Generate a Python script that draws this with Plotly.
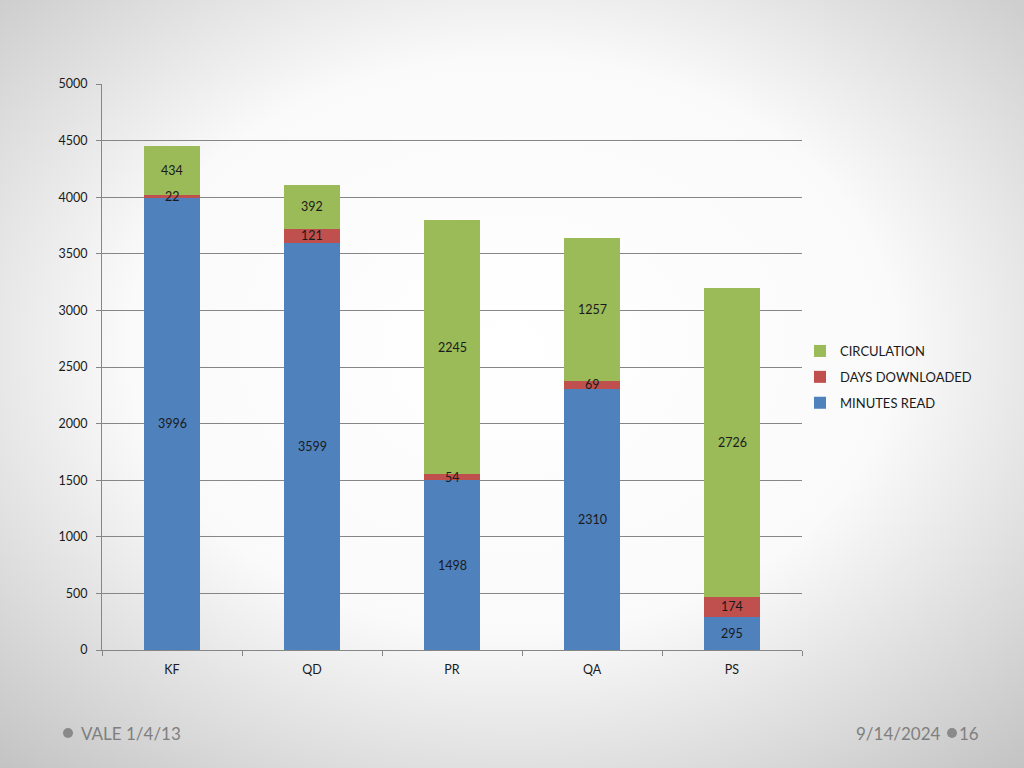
import base64
import plotly.graph_objects as go

categories = ["KF", "QD", "PR", "QA", "PS"]
minutes_read = [3996, 3599, 1498, 2310, 295]
days_downloaded = [22, 121, 54, 69, 174]
circulation = [434, 392, 2245, 1257, 2726]
series_names = ["MINUTES READ", "DAYS DOWNLOADED", "CIRCULATION"]
series_colors = ["#4F81BD", "#C0504D", "#9BBB59"]
legend_ranks = [3, 2, 1]
y_ticks = [0, 500, 1000, 1500, 2000, 2500, 3000, 3500, 4000, 4500, 5000]

W, H = 1024, 768
ML, MR, MT, MB = 102, 222, 84, 118
PW, PH = W - ML - MR, H - MT - MB

FONT = "Lato, 'Open Sans', sans-serif"

fig = go.Figure()
series = [minutes_read, days_downloaded, circulation]
for name, vals, col, rk in zip(series_names, series, series_colors, legend_ranks):
    fig.add_trace(go.Bar(
        x=categories, y=vals, name=name, marker=dict(color=col, line=dict(width=0)),
        legendgroup=name, legendrank=rk, width=0.4, hoverinfo="skip",
    ))

# data labels centred in each segment
base = [0] * len(categories)
for vals in series:
    for i, v in enumerate(vals):
        fig.add_annotation(x=categories[i], y=base[i] + v / 2, text=str(v), showarrow=False,
                           font=dict(family=FONT, size=12.5, color="#1a1a1a"), xref="x", yref="y")
        base[i] += v

svg = f'''<svg xmlns="http://www.w3.org/2000/svg" width="{W}" height="{H}">
<defs><radialGradient id="g" cx="50%" cy="45%" r="75%">
<stop offset="0%" stop-color="#ffffff"/><stop offset="50%" stop-color="#fafafa"/>
<stop offset="100%" stop-color="#c2c2c2"/></radialGradient></defs>
<rect width="{W}" height="{H}" fill="url(#g)"/></svg>'''
uri = "data:image/svg+xml;base64," + base64.b64encode(svg.encode()).decode()
fig.add_layout_image(dict(source=uri, xref="paper", yref="paper",
                          x=-ML / PW, y=1 + MT / PH, sizex=W / PW, sizey=H / PH,
                          sizing="stretch", xanchor="left", yanchor="top", layer="below"))

# footer
fy = -(733 - (MT + PH)) / PH
fig.add_annotation(xref="paper", yref="paper", x=(79 - ML) / PW, y=fy,
                   text="VALE 1/4/13", showarrow=False, xanchor="left", yanchor="middle",
                   font=dict(family=FONT, size=17, color="#7f7f7f"))
fig.add_annotation(xref="paper", yref="paper", x=(943 - ML) / PW, y=fy,
                   text="9/14/2024", showarrow=False, xanchor="right", yanchor="middle",
                   font=dict(family=FONT, size=17, color="#7f7f7f"))
fig.add_annotation(xref="paper", yref="paper", x=(957 - ML) / PW, y=fy,
                   text="16", showarrow=False, xanchor="left", yanchor="middle",
                   font=dict(family=FONT, size=17, color="#7f7f7f"))
for cx in (68, 952):
    fig.add_shape(type="circle", xref="paper", yref="paper",
                  x0=(cx - 5 - ML) / PW, x1=(cx + 5 - ML) / PW,
                  y0=-(738 - (MT + PH)) / PH, y1=-(728 - (MT + PH)) / PH,
                  fillcolor="#8a8a8a", line=dict(width=0))

fig.update_layout(
    width=W, height=H, barmode="stack",
    margin=dict(l=ML, r=MR, t=MT, b=MB, pad=0),
    paper_bgcolor="#e6e6e6", plot_bgcolor="white",
    font=dict(family=FONT, size=12.5, color="#1a1a1a"),
    legend=dict(x=(800 - ML) / PW, y=(650 - 336) / PH, xanchor="left", yanchor="top",
                traceorder="grouped", tracegroupgap=6,
                font=dict(family=FONT, size=13, color="#1a1a1a"),
                bgcolor="rgba(0,0,0,0)", itemwidth=30),
    bargap=0.6,
    xaxis=dict(showline=True, linecolor="#868686", linewidth=1, ticks="outside",
               tickson="boundaries", ticklen=5, tickcolor="#868686",
               tickfont=dict(family=FONT, size=12.5), showgrid=False, ticklabelstandoff=8),
    yaxis=dict(range=[0, 5000], tickvals=y_ticks, showline=True, linecolor="#868686",
               linewidth=1, ticks="outside", ticklen=5, tickcolor="#868686",
               gridcolor="#868686", gridwidth=1, zeroline=False,
               tickfont=dict(family=FONT, size=12.5), ticklabelstandoff=6),
)
fig.write_html("out.html", config={"displayModeBar": False},
               post_script="document.body.style.margin='0';document.body.style.overflow='hidden';")
